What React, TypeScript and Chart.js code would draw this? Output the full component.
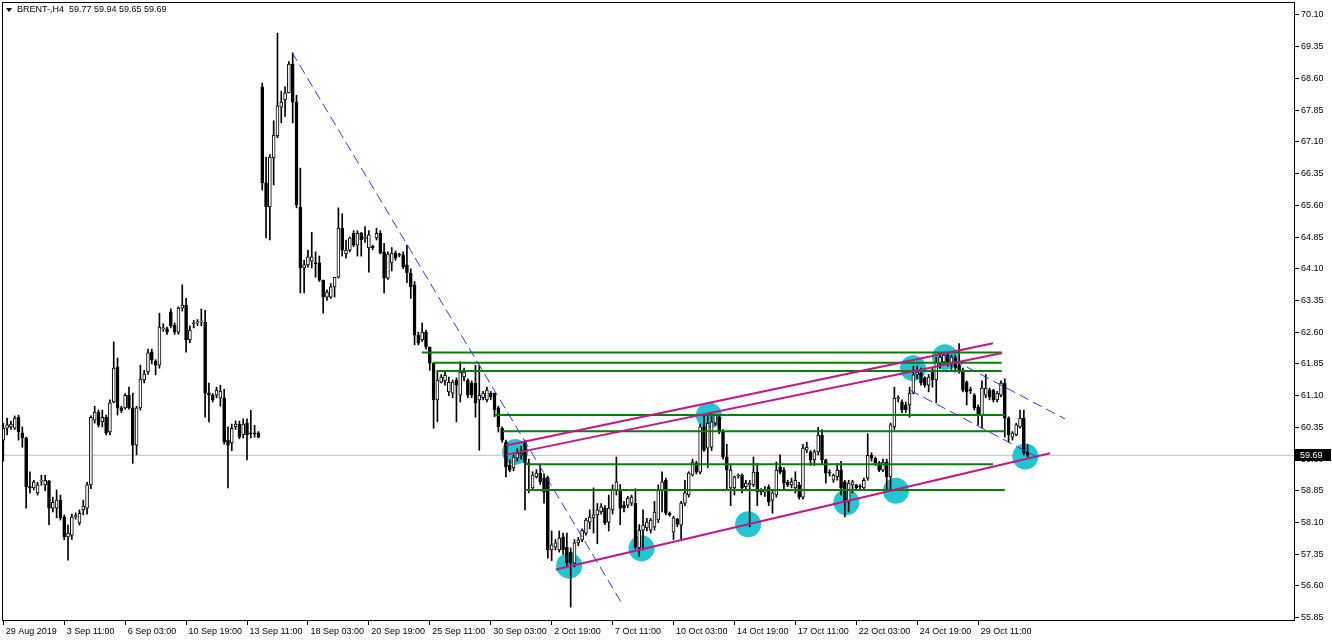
import { useEffect, useRef } from 'react';
import { Chart, registerables } from 'chart.js';

Chart.register(...registerables);

const SYMBOL = 'BRENT-,H4';

const OPEN = [
  60.05, 60.33, 60.36, 60.33, 60.59, 60.22, 60.10, 58.95, 58.92, 58.80,
  59.08, 58.99, 59.08, 58.44, 58.44, 58.63, 58.23, 57.76, 57.80, 58.24,
  58.09, 58.40, 58.44, 58.99, 60.52, 60.71, 60.48, 60.59, 60.24, 60.95,
  61.78, 60.81, 60.81, 61.11, 60.81, 59.93, 60.81, 61.47, 61.66, 62.13,
  61.92, 61.82, 62.68, 62.68, 63.08, 62.77, 62.60, 63.17, 63.24, 62.42,
  62.80, 62.82, 62.84, 62.84, 61.16, 61.11, 61.11, 61.04, 61.04, 60.05,
  59.98, 60.36, 60.43, 60.17, 60.45, 60.22, 60.20, 60.22, 68.40, 66.13,
  65.56, 66.72, 67.24, 67.92, 68.09, 68.26, 68.94, 68.04, 65.56, 64.12,
  64.19, 64.28, 64.24, 64.24, 63.83, 63.43, 63.43, 63.67, 63.90, 65.06,
  64.45, 64.54, 64.94, 64.66, 64.94, 64.82, 64.59, 64.63, 64.83, 64.94,
  64.50, 63.88, 64.24, 64.47, 64.43, 64.43, 64.19, 64.00, 63.72, 62.53,
  62.42, 62.60, 62.25, 61.87, 61.00, 61.42, 61.45, 61.19, 61.16, 61.47,
  61.11, 61.54, 61.47, 61.40, 61.40, 61.00, 61.05, 61.00, 61.16, 61.16,
  60.81, 60.33, 60.00, 59.46, 59.39, 59.62, 59.69, 60.00, 59.51, 58.92,
  59.18, 59.27, 59.15, 59.15, 57.45, 57.52, 57.45, 57.76, 57.52, 57.40,
  57.14, 57.62, 57.69, 57.85, 58.11, 58.21, 58.28, 58.35, 58.44, 58.11,
  58.40, 58.87, 58.87, 58.51, 58.51, 58.56, 58.56, 57.50, 57.92, 57.97,
  57.92, 57.99, 58.16, 58.87, 59.10, 58.32, 57.87, 58.18, 58.04, 58.56,
  58.75, 59.22, 59.51, 59.29, 60.36, 59.86, 59.88, 60.45, 60.59, 60.24,
  59.65, 58.92, 58.92, 59.20, 59.22, 58.94, 58.99, 58.99, 59.29, 58.87,
  58.82, 58.94, 58.63, 58.75, 59.41, 59.34, 59.06, 58.99, 58.92, 58.99,
  58.70, 59.81, 59.77, 59.58, 59.77, 60.17, 59.58, 59.28, 59.10, 59.18,
  59.34, 59.06, 58.58, 58.99, 58.99, 58.95, 58.92, 59.15, 59.69, 59.62,
  59.51, 59.34, 59.53, 59.18, 60.36, 61.03, 60.95, 60.88, 60.88, 61.16,
  61.59, 61.63, 61.52, 61.35, 61.71, 61.47, 61.87, 61.89, 62.06, 61.87,
  61.99, 61.82, 61.71, 61.42, 61.23, 61.11, 60.83, 60.64, 61.11, 61.23,
  61.23, 61.00, 61.11, 61.40, 60.57, 60.12, 60.17, 60.36, 60.57, 59.77,
];

const HIGH = [
  60.45, 60.57, 60.50, 60.62, 60.64, 60.36, 60.12, 59.30, 59.10, 59.05,
  59.22, 59.22, 59.10, 58.70, 58.87, 58.75, 58.28, 58.04, 58.30, 58.33,
  58.40, 58.63, 59.05, 60.62, 60.85, 60.76, 60.76, 60.64, 61.00, 62.37,
  61.99, 60.85, 61.15, 61.30, 61.16, 60.85, 61.82, 61.70, 62.20, 62.20,
  61.95, 63.05, 62.80, 62.72, 63.15, 62.82, 63.20, 63.72, 63.40, 62.75,
  62.88, 62.90, 63.15, 63.12, 61.40, 61.15, 61.30, 61.35, 61.25, 60.36,
  60.43, 60.50, 60.50, 60.55, 60.55, 60.75, 60.40, 60.25, 68.49, 66.74,
  66.80, 67.60, 69.67, 68.30, 68.40, 69.00, 69.20, 68.20, 66.48, 64.30,
  64.54, 64.96, 64.50, 64.40, 63.83, 63.60, 63.75, 63.90, 65.54, 65.40,
  64.78, 64.85, 65.00, 65.00, 64.96, 65.10, 65.00, 64.66, 65.06, 65.00,
  64.70, 64.50, 64.60, 64.52, 64.47, 64.50, 64.66, 64.10, 63.80, 62.60,
  62.82, 62.65, 62.25, 61.87, 61.70, 61.60, 61.66, 61.54, 61.47, 61.52,
  61.90, 61.75, 61.50, 61.45, 61.82, 61.82, 61.20, 61.30, 61.20, 61.16,
  60.85, 60.36, 60.05, 59.58, 59.70, 59.85, 59.90, 60.05, 59.60, 59.30,
  59.35, 59.45, 59.25, 59.20, 57.90, 57.70, 57.90, 57.85, 57.85, 57.50,
  57.70, 57.75, 57.95, 58.20, 58.40, 58.92, 58.55, 58.55, 58.50, 58.75,
  58.99, 59.65, 59.00, 58.60, 58.72, 58.75, 58.90, 58.05, 58.40, 58.20,
  58.20, 58.60, 58.99, 59.30, 59.15, 58.35, 58.25, 58.20, 58.60, 59.10,
  59.30, 59.60, 59.55, 60.43, 60.65, 60.65, 60.70, 60.65, 60.62, 60.30,
  59.95, 59.46, 59.20, 59.25, 59.25, 59.10, 59.10, 59.65, 59.50, 58.90,
  58.95, 58.99, 58.85, 59.53, 59.70, 59.40, 59.10, 59.15, 59.30, 59.05,
  59.95, 60.00, 59.80, 59.82, 60.35, 60.30, 59.60, 59.35, 59.25, 59.50,
  59.55, 59.10, 59.10, 59.10, 59.00, 59.00, 59.15, 60.20, 59.75, 59.65,
  59.55, 59.60, 59.60, 60.45, 61.30, 61.10, 61.00, 60.95, 61.30, 61.80,
  61.80, 61.75, 61.55, 61.60, 61.75, 62.01, 62.10, 62.11, 62.11, 62.06,
  62.06, 62.33, 61.75, 61.45, 61.30, 61.15, 60.88, 61.45, 61.60, 61.28,
  61.25, 61.20, 61.45, 61.50, 60.60, 60.25, 60.45, 60.76, 60.76, 59.94,
];

const LOW = [
  59.55, 60.17, 60.30, 60.30, 60.05, 59.88, 58.44, 58.80, 58.87, 58.75,
  58.98, 58.85, 58.05, 58.35, 58.21, 58.16, 57.69, 57.21, 57.70, 58.18,
  58.04, 58.28, 58.30, 58.90, 60.45, 60.36, 60.36, 60.17, 60.17, 60.93,
  60.64, 60.70, 60.78, 60.78, 59.50, 59.70, 60.76, 61.40, 61.60, 61.85,
  61.59, 61.75, 62.62, 62.55, 62.70, 62.55, 62.55, 63.10, 62.13, 62.35,
  62.70, 62.75, 62.75, 60.59, 60.48, 60.95, 61.05, 60.85, 59.95, 58.92,
  59.80, 60.30, 60.08, 60.10, 59.58, 60.10, 60.12, 60.10, 65.96, 64.83,
  64.78, 66.08, 67.20, 67.55, 67.70, 68.26, 67.55, 65.54, 63.53, 63.53,
  64.14, 64.12, 63.90, 63.80, 63.05, 63.35, 63.40, 63.43, 63.88, 64.40,
  64.35, 64.50, 64.62, 64.40, 64.40, 64.72, 64.02, 64.55, 64.78, 64.45,
  63.53, 63.85, 64.05, 64.30, 64.38, 64.10, 63.77, 63.40, 62.30, 62.30,
  62.38, 62.20, 61.70, 60.33, 60.48, 61.40, 61.35, 61.10, 61.05, 60.48,
  60.95, 61.45, 61.05, 61.05, 60.59, 59.81, 61.00, 60.95, 61.00, 60.60,
  60.24, 60.00, 59.18, 59.30, 59.32, 59.55, 59.60, 58.40, 58.80, 58.90,
  59.15, 59.00, 58.56, 57.26, 57.20, 57.45, 57.40, 57.35, 57.05, 56.10,
  57.05, 57.55, 57.65, 57.80, 57.95, 57.85, 57.60, 58.30, 58.05, 57.90,
  58.30, 58.75, 58.05, 58.35, 58.45, 58.50, 57.48, 57.30, 57.45, 57.90,
  57.85, 57.92, 58.10, 58.35, 58.28, 58.25, 57.70, 58.00, 57.70, 58.50,
  58.70, 59.20, 59.25, 59.25, 59.78, 59.40, 59.80, 60.40, 60.20, 59.60,
  58.87, 58.50, 58.75, 59.15, 58.80, 58.90, 58.00, 58.95, 58.50, 58.75,
  58.72, 58.50, 58.32, 58.70, 59.25, 58.90, 58.95, 58.92, 58.80, 58.65,
  58.65, 59.75, 59.45, 59.45, 59.70, 59.50, 59.03, 59.20, 59.05, 59.10,
  58.75, 58.23, 58.35, 58.80, 58.85, 58.88, 58.88, 59.10, 59.55, 59.45,
  59.30, 59.30, 58.87, 58.87, 60.30, 60.95, 60.70, 60.70, 60.59, 61.14,
  61.50, 61.35, 61.30, 61.19, 61.30, 60.93, 61.75, 61.85, 61.80, 61.70,
  61.66, 61.63, 61.19, 60.88, 61.15, 60.76, 60.41, 60.33, 61.05, 61.00,
  60.95, 60.95, 61.07, 60.12, 60.00, 60.05, 60.15, 60.33, 59.70, 59.65,
];

const CLOSE = [
  60.33, 60.41, 60.43, 60.57, 60.24, 60.10, 58.94, 58.92, 59.06, 58.99,
  59.10, 59.10, 58.44, 58.58, 58.63, 58.21, 57.76, 57.85, 58.23, 58.26,
  58.32, 58.49, 58.99, 60.59, 60.71, 60.41, 60.59, 60.22, 60.93, 61.75,
  60.81, 60.74, 61.11, 60.81, 59.93, 60.81, 61.49, 61.61, 62.11, 61.94,
  61.82, 62.72, 62.70, 62.60, 62.75, 62.60, 63.17, 63.24, 62.42, 62.65,
  62.82, 62.83, 62.86, 61.16, 61.11, 61.00, 61.23, 61.21, 60.00, 59.93,
  60.33, 60.43, 60.12, 60.43, 60.17, 60.20, 60.19, 60.12, 66.13, 65.56,
  66.74, 67.26, 67.95, 68.04, 68.26, 68.94, 68.04, 65.61, 64.12, 64.19,
  64.38, 64.38, 64.22, 63.83, 63.43, 63.55, 63.67, 63.90, 65.06, 64.54,
  64.54, 64.83, 64.66, 64.94, 64.78, 64.84, 64.90, 64.60, 64.94, 64.47,
  63.88, 64.45, 64.47, 64.35, 64.42, 64.14, 64.00, 63.67, 62.53, 62.34,
  62.60, 62.25, 61.87, 61.00, 61.47, 61.54, 61.58, 61.42, 61.42, 61.35,
  61.66, 61.66, 61.11, 61.11, 60.93, 61.11, 61.16, 61.23, 61.07, 60.76,
  60.36, 60.05, 59.41, 59.34, 59.65, 59.74, 59.74, 59.51, 59.46, 59.22,
  59.27, 59.06, 58.82, 57.45, 57.57, 57.62, 57.73, 57.45, 57.14, 57.14,
  57.62, 57.69, 57.92, 58.16, 58.23, 58.28, 58.40, 58.47, 58.09, 58.44,
  58.87, 59.06, 58.44, 58.44, 58.68, 58.70, 57.52, 57.92, 58.04, 58.11,
  58.16, 58.35, 58.87, 59.06, 58.32, 58.28, 58.21, 58.06, 58.56, 58.80,
  59.27, 59.53, 59.29, 60.36, 59.81, 60.45, 60.48, 60.64, 60.24, 59.65,
  59.34, 59.34, 59.18, 59.22, 58.92, 59.03, 59.03, 59.29, 58.82, 58.82,
  58.85, 58.58, 58.80, 59.34, 59.29, 59.03, 58.99, 59.06, 59.10, 58.70,
  59.86, 59.88, 59.58, 59.77, 60.17, 59.58, 59.27, 59.27, 59.22, 59.34,
  58.92, 58.58, 59.03, 59.06, 58.92, 58.94, 59.10, 59.69, 59.62, 59.51,
  59.34, 59.53, 59.18, 60.41, 61.04, 61.05, 60.76, 60.76, 61.16, 61.59,
  61.66, 61.40, 61.35, 61.54, 61.47, 61.89, 62.01, 62.06, 61.89, 62.01,
  61.75, 61.71, 61.23, 61.19, 61.22, 60.81, 60.64, 61.28, 61.28, 61.07,
  61.00, 61.16, 61.40, 60.57, 60.17, 60.22, 60.41, 60.57, 59.74, 59.69,
];

const X_TICK_INDEX = [0, 16, 32, 48, 64, 80, 96, 112, 128, 144, 160, 176, 192, 208, 224, 240, 256];
const X_TICK_LABELS = [
  '29 Aug 2019', '3 Sep 11:00', '6 Sep 03:00', '10 Sep 19:00', '13 Sep 11:00',
  '18 Sep 03:00', '20 Sep 19:00', '25 Sep 11:00', '30 Sep 03:00', '2 Oct 19:00',
  '7 Oct 11:00', '10 Oct 03:00', '14 Oct 19:00', '17 Oct 11:00', '22 Oct 03:00',
  '24 Oct 19:00', '29 Oct 11:00',
];
const Y_TICKS = [
  55.85, 56.60, 57.35, 58.10, 58.85, 59.60, 60.35, 61.10, 61.85, 62.60,
  63.35, 64.10, 64.85, 65.60, 66.35, 67.10, 67.85, 68.60, 69.35, 70.10,
];

// [startIndex, startPrice, endIndex, endPrice]
const BLUE_DASHED_LINES = [
  [75.8, 69.22, 162.7, 56.15],
  [246.0, 62.11, 278.8, 60.55],
  [238.1, 61.23, 271.4, 59.65],
];
const MAGENTA_LINES = [
  [132.0, 59.92, 259.9, 62.34],
  [132.0, 59.70, 262.3, 62.11],
  [145.1, 56.99, 274.9, 59.74],
];
// [startIndex, endIndex, price]
const GREEN_LEVELS = [
  [109.9, 262.2, 62.12],
  [112.8, 262.2, 61.88],
  [113.9, 262.2, 61.68],
  [129.1, 263.0, 60.64],
  [131.2, 263.0, 60.26],
  [137.2, 259.9, 59.48],
  [136.9, 263.0, 58.87],
];
// [index, price]
const TOUCH_POINTS = [
  [134.4, 59.77], [148.6, 57.08], [167.6, 57.49], [185.3, 60.63], [195.6, 58.06],
  [221.4, 58.58], [234.4, 58.85], [238.9, 61.75], [247.3, 62.01], [268.4, 59.66],
];

const X_MIN = -0.341;
const X_MAX = 339.21;
const Y_MIN = 55.772;
const Y_MAX = 70.407;

const FONT = { family: '"Liberation Sans", Arial, sans-serif', size: 9 };

function zeroPadding(s: any) {
  s.paddingLeft = 0;
  s.paddingRight = 0;
  s.paddingTop = 0;
  s.paddingBottom = 0;
}

export default function App() {
  const ref = useRef<HTMLCanvasElement | null>(null);

  useEffect(() => {
    document.body.style.margin = '0';
    const canvas = ref.current;
    if (!canvas) return;
    const n = OPEN.length;
    const idx = OPEN.map((_, i) => i);
    const last = n - 1;
    const lastClose = CLOSE[last];

    const datasets: any[] = [];

    datasets.push({
      type: 'line',
      data: [{ x: X_MIN - 1, y: lastClose }, { x: X_MAX + 1, y: lastClose }],
      borderColor: '#c0c0c0',
      borderWidth: 1,
      pointRadius: 0,
      order: 9,
    });

    datasets.push({
      type: 'line',
      data: TOUCH_POINTS.map(([x, y]) => ({ x, y })),
      showLine: false,
      pointRadius: 13,
      pointBackgroundColor: '#22c6d0',
      pointBorderWidth: 0,
      order: 8,
    });

    datasets.push({
      type: 'bar',
      data: idx.map((i) => ({ x: i, y: [LOW[i], HIGH[i]] })),
      backgroundColor: '#000',
      barThickness: 1,
      grouped: false,
      order: 6,
    });

    datasets.push({
      type: 'bar',
      data: idx.map((i) => ({ x: i, y: [Math.min(OPEN[i], CLOSE[i]), Math.max(OPEN[i], CLOSE[i])] })),
      backgroundColor: idx.map((i) => (CLOSE[i] > OPEN[i] ? '#ffffff' : '#000000')),
      borderColor: '#000',
      borderWidth: 1,
      borderSkipped: false,
      barThickness: 3,
      minBarLength: 1,
      grouped: false,
      order: 5,
    });

    GREEN_LEVELS.forEach(([a, b, p]) => {
      datasets.push({
        type: 'line',
        data: [{ x: a, y: p }, { x: b, y: p }],
        borderColor: '#0a7d0a',
        borderWidth: 2,
        pointRadius: 0,
        order: 3,
      });
    });

    MAGENTA_LINES.forEach(([x1, y1, x2, y2]) => {
      datasets.push({
        type: 'line',
        data: [{ x: x1, y: y1 }, { x: x2, y: y2 }],
        borderColor: '#c71585',
        borderWidth: 2,
        pointRadius: 0,
        order: 2,
      });
    });

    BLUE_DASHED_LINES.forEach(([x1, y1, x2, y2]) => {
      datasets.push({
        type: 'line',
        data: [{ x: x1, y: y1 }, { x: x2, y: y2 }],
        borderColor: '#3636d2',
        borderWidth: 1,
        borderDash: [10, 5],
        pointRadius: 0,
        order: 1,
      });
    });

    const overlay = {
      id: 'mtOverlay',
      afterDraw(chart: any) {
        const { ctx, chartArea } = chart;
        const yScale = chart.scales.y;
        ctx.save();
        ctx.strokeStyle = '#000';
        ctx.lineWidth = 1;
        ctx.strokeRect(chartArea.left + 0.5, chartArea.top + 0.5, chartArea.right - chartArea.left - 1, chartArea.bottom - chartArea.top - 1);
        ctx.fillStyle = '#000';
        ctx.beginPath();
        ctx.moveTo(6, 8);
        ctx.lineTo(12, 8);
        ctx.lineTo(9, 12);
        ctx.closePath();
        ctx.fill();
        ctx.font = `${FONT.size}px ${FONT.family}`;
        ctx.textBaseline = 'middle';
        ctx.textAlign = 'left';
        const vals = [OPEN[last], HIGH[last], LOW[last], CLOSE[last]].map((v) => v.toFixed(2)).join(' ');
        ctx.fillText(`${SYMBOL}  ${vals}`, 17, 10);
        const y = Math.round(yScale.getPixelForValue(lastClose));
        ctx.fillStyle = '#000';
        ctx.fillRect(chartArea.right, y - 6, chart.width - chartArea.right - 1, 12);
        ctx.fillStyle = '#fff';
        ctx.fillText(lastClose.toFixed(2), chartArea.right + 5, y + 0.5);
        ctx.restore();
      },
    };

    const chart = new Chart(canvas, {
      type: 'bar',
      data: { datasets },
      options: {
        responsive: false,
        animation: false,
        devicePixelRatio: 1,
        events: [],
        layout: { autoPadding: false, padding: { left: 2, top: 2, right: 0, bottom: 0 } },
        plugins: {
          legend: { display: false },
          tooltip: { enabled: false },
          title: { display: false },
        },
        scales: {
          x: {
            type: 'linear',
            min: X_MIN,
            max: X_MAX,
            offset: false,
            afterBuildTicks: (s: any) => {
              s.ticks = X_TICK_INDEX.map((v) => ({ value: v }));
            },
            afterFit: (s: any) => {
              s.height = 20;
              zeroPadding(s);
            },
            ticks: {
              autoSkip: false,
              maxRotation: 0,
              minRotation: 0,
              align: 'start',
              padding: 1,
              color: '#000',
              font: FONT,
              callback: (v: any) => ' ' + X_TICK_LABELS[X_TICK_INDEX.indexOf(v)],
            },
            grid: {
              display: true,
              drawOnChartArea: false,
              drawTicks: true,
              tickLength: 4,
              color: '#000',
              offset: false,
            },
            border: { display: false },
          },
          y: {
            type: 'linear',
            position: 'right',
            min: Y_MIN,
            max: Y_MAX,
            beginAtZero: false,
            afterBuildTicks: (s: any) => {
              s.ticks = Y_TICKS.map((v) => ({ value: v }));
            },
            afterFit: (s: any) => {
              s.width = 37;
              zeroPadding(s);
            },
            ticks: {
              crossAlign: 'near',
              padding: 2,
              color: '#000',
              font: FONT,
              callback: (v: any) => Number(v).toFixed(2),
            },
            grid: {
              display: true,
              drawOnChartArea: false,
              drawTicks: true,
              tickLength: 4,
              color: '#000',
            },
            border: { display: false },
          },
        },
      } as any,
      plugins: [overlay],
    } as any);

    return () => chart.destroy();
  }, []);

  return <canvas ref={ref} width={1332} height={641} style={{ display: 'block' }} />;
}
